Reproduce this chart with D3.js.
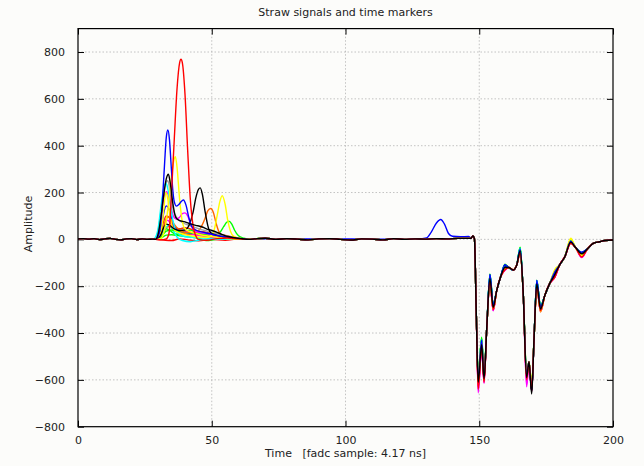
<!DOCTYPE html>
<html><head><meta charset="utf-8">
<script src="https://cdn.jsdelivr.net/npm/d3@7"></script>
<style>
html,body{margin:0;padding:0;background:#fcfcfa;}
svg{display:block;font-family:"DejaVu Sans",sans-serif;}
</style></head>
<body><svg id="chart" width="644" height="466"></svg>
<script>
// ---- data (sample index, amplitude) ----
const xTicks = [0, 50, 100, 150, 200];
const yTicks = [-800, -600, -400, -200, 0, 200, 400, 600, 800];

// shared pre-trigger baseline
const baseS = [0, 2, 4, 6, 8, 10, 12, 14, 16, 18, 20, 22, 24, 26, 28];
const baseV = [2, 3, 1, 3, -1, 2, 4, 0, -2, 2, 3, -1, 2, 0, 1];
// shared baseline between pulses and time markers
const midS = [66, 70, 74, 78, 82, 86, 90, 94, 98, 102, 106, 110, 114, 118, 122, 126, 130, 134, 138, 142, 146];
const midV = [2, 5, 0, 3, 1, -2, 2, 3, 0, -3, 2, 1, -2, 3, 0, 2, 1, 3, 2, 4, 4];
// shared time-marker response (sample positions and amplitudes)
const tailS = [147, 147.6, 148.2, 148.9, 149.6, 150.9, 151.8, 152.8, 154, 155.2, 156.5, 158, 159.6, 161, 162.7, 164, 165.3, 166.4, 167.7, 168.6, 169.6, 170.5, 171.5, 172.9, 174.5, 176.4, 178.3, 180, 182, 184.2, 186, 188.3, 190.5, 192.6, 195, 197, 200];
const tailV = [5, 15, 2, -320, -615, -444, -600, -380, -165, -288, -220, -160, -117, -120, -131, -110, -48, -220, -580, -523, -651, -420, -187, -295, -240, -187, -145, -110, -74, -10, -35, -60, -40, -17, -10, -5, -3];
// per-trace values at samples 149.6, 150.9, 151.8, 154, 155.2, 159.6, 165.3, 167.7, 169.6, 171.5, 172.9, 178.3, 184.2, 188.3
const deepIdx = [4, 5, 6, 8, 9, 12, 16, 18, 20, 22, 23, 26, 29, 31];

const redA = [[29,0],[31,-2],[33,2],[34,25],[35,210],[36,430],[37,640],[38,755],[38.5,769],[39,755],[40,620],[41,380],[42,170],[43,60],[44,15],[45,0],[48,-4],[52,3],[56,6],[60,2],[64,0]];
const redADeep = [-640, -460, -610, -180, -300, -130, -60, -600, -640, -200, -305, -160, -18, -75];
const blueA = [[29,0],[30,12],[30.6,40],[31.2,105],[31.8,210],[32.4,330],[33,435],[33.6,467],[34.2,425],[34.8,320],[35.4,215],[36,160],[36.8,142],[37.8,150],[38.6,162],[39.4,168],[40.4,145],[41.4,95],[42.5,55],[44,40],[47,30],[50,22],[54,12],[58,6],[62,2],[64,0]];
const blueADeep = [-600, -430, -590, -150, -280, -110, -42, -570, -640, -175, -290, -138, -8, -55];
const yellowA = [[29,0],[31,4],[32,25],[33,80],[34,170],[35,275],[36,345],[36.4,353],[37,310],[38,170],[39,75],[40,45],[42,32],[45,22],[50,12],[55,5],[60,0]];
const yellowADeep = [-590, -435, -575, -170, -295, -125, -55, -560, -620, -195, -310, -130, 5, -70];
const yellowB = [[29,0],[31,30],[32,120],[32.8,200],[33.6,170],[34.5,90],[36,40],[40,20],[45,10],[48,8],[50,18],[51,45],[52,100],[53,160],[53.9,186],[55,150],[56,80],[57,35],[58,15],[60,5],[63,0]];
const yellowBDeep = [-620, -445, -600, -172, -298, -128, -52, -590, -630, -192, -300, -128, 2, -66];
const blackA = [[29,0],[30,25],[31,95],[32,185],[33,258],[33.8,278],[34.5,240],[35.5,150],[36.5,95],[38,80],[40,75],[42,66],[44,60],[46,55],[48,45],[50,38],[52,30],[54,20],[56,12],[58,8],[61,3],[64,0]];
const blackADeep = [-610, -450, -595, -168, -290, -120, -50, -590, -660, -190, -298, -150, -12, -62];
const blackB = [[29,0],[31,20],[32,50],[33,65],[34,62],[36,45],[38,38],[40,40],[41.5,60],[43,115],[44,175],[45,213],[45.7,220],[46.5,192],[47.5,120],[48.5,60],[49.5,30],[51,20],[54,10],[58,3],[62,0]];
const blackBDeep = [-605, -448, -600, -165, -286, -118, -48, -585, -650, -188, -294, -146, -10, -60];
const orangeA = [[29,0],[31,20],[32,55],[33,88],[34,95],[35,80],[37,50],[40,30],[44,30],[46,52],[47.5,90],[48.5,122],[49.6,132],[50.6,115],[51.6,70],[52.6,35],[54,15],[57,5],[60,0]];
const orangeADeep = [-630, -455, -600, -175, -300, -125, -56, -600, -645, -198, -304, -155, -14, -70];
const greenA = [[29,0],[31,10],[33,35],[35,40],[37,35],[40,30],[45,25],[50,20],[53,30],[54.5,55],[55.5,72],[56.4,78],[57.5,65],[58.5,40],[60,15],[62,5],[64,0]];
const greenADeep = [-590, -425, -580, -158, -282, -112, -38, -570, -630, -180, -288, -140, -5, -58];
const cyanA = [[28,0],[29,10],[30,50],[31,140],[32,215],[32.9,240],[33.5,220],[34.5,150],[35.5,80],[36.5,40],[38,20],[40,12],[44,8],[48,4],[52,0]];
const cyanADeep = [-600, -428, -590, -155, -284, -114, -40, -580, -640, -178, -290, -142, -8, -60];
const magentaA = [[29,0],[30,20],[31,80],[32,170],[33.1,203],[34,180],[35,125],[36,92],[37,86],[38,95],[39,110],[40,113],[41,100],[42,70],[43,45],[45,30],[48,25],[52,15],[56,8],[60,5],[64,0]];
const magentaADeep = [-655, -470, -615, -185, -305, -132, -58, -630, -650, -200, -310, -162, -16, -78];
const grayA = [[29,0],[30,40],[31,120],[32,200],[33,245],[33.6,250],[34.5,200],[35.5,130],[37,92],[39,72],[42,58],[45,46],[48,36],[52,24],[56,14],[60,5],[64,0]];
const grayADeep = [-610, -446, -600, -166, -290, -120, -50, -590, -645, -190, -296, -148, -10, -62];
const blueB = [[29,0],[31,40],[32,110],[33,143],[34,130],[35,90],[36,55],[38,35],[40,30],[44,25],[48,20],[52,14],[56,6],[60,0]];
const blueBMid = [[66,2],[90,2],[110,1],[122,0],[128,2],[130.3,6],[132,30],[134,70],[135.6,85],[137,65],[138.5,25],[140,13],[143,11],[146,12]];
const blueBDeep = [-600, -432, -585, -152, -278, -108, -40, -575, -645, -176, -288, -136, -5, -58];
const redB = [[29,0],[31,30],[32,75],[33,100],[34,95],[35,70],[36,52],[38,45],[40,50],[42,45],[45,35],[48,30],[50,25],[53,20],[56,15],[60,5],[64,0]];
const redBDeep = [-625, -458, -605, -178, -302, -128, -57, -595, -650, -196, -306, -158, -15, -72];
const greenB = [[29,0],[31,10],[32,30],[33,45],[34,40],[36,25],[38,20],[40,30],[42,40],[44,30],[47,15],[50,10],[55,5],[60,0]];
const greenBDeep = [-595, -422, -585, -150, -280, -110, -36, -575, -635, -178, -286, -138, -6, -60];
const greenC = [[29,0],[31,5],[33,18],[35,20],[38,15],[42,10],[45,5],[48,-5],[52,0],[60,0]];
const greenCDeep = [-580, -418, -575, -148, -276, -106, -34, -565, -625, -174, -284, -135, -4, -56];
const redC = [[29,0],[32,-3],[35,-5],[38,2],[41,-2],[45,-6],[50,0],[55,-4],[60,2],[64,0]];
const redCDeep = [-620, -462, -600, -182, -303, -130, -60, -600, -640, -202, -308, -160, -14, -74];
const cyanB = [[29,0],[31,15],[32.5,45],[34,62],[35.5,40],[37,10],[39,-5],[42,-10],[45,-4],[50,2],[56,0]];
const cyanBDeep = [-605, -430, -590, -156, -282, -112, -38, -585, -640, -180, -289, -140, -7, -58];
const magentaB = [[29,0],[31,20],[32.5,65],[33.5,82],[34.5,70],[36,45],[38,30],[40,35],[42,25],[46,15],[50,10],[56,4],[62,0]];
const magentaBDeep = [-645, -466, -610, -183, -304, -131, -58, -620, -648, -198, -309, -160, -14, -76];
const orangeB = [[29,0],[31,15],[33,50],[34,55],[36,40],[39,25],[43,20],[48,15],[52,12],[56,8],[60,3],[64,0]];
const orangeBDeep = [-615, -452, -600, -174, -298, -126, -54, -595, -642, -194, -302, -154, -12, -70];

const series = [
  {color: "#ff0000", pulse: redC,     deep: redCDeep},
  {color: "#00ff00", pulse: greenC,   deep: greenCDeep},
  {color: "#00ff00", pulse: greenB,   deep: greenBDeep},
  {color: "#ff6600", pulse: orangeB,  deep: orangeBDeep},
  {color: "#ff00ff", pulse: magentaB, deep: magentaBDeep},
  {color: "#00ffff", pulse: cyanB,    deep: cyanBDeep},
  {color: "#ff3300", pulse: redB,     deep: redBDeep},
  {color: "#0000ff", pulse: blueB,    deep: blueBDeep, mid: blueBMid},
  {color: "#00ff00", pulse: greenA,   deep: greenADeep},
  {color: "#ff6600", pulse: orangeA,  deep: orangeADeep},
  {color: "#a0a0a0", pulse: grayA,    deep: grayADeep},
  {color: "#ff00ff", pulse: magentaA, deep: magentaADeep},
  {color: "#00ffff", pulse: cyanA,    deep: cyanADeep},
  {color: "#ffff00", pulse: yellowB,  deep: yellowBDeep},
  {color: "#000000", pulse: blackB,   deep: blackBDeep},
  {color: "#ffff00", pulse: yellowA,  deep: yellowADeep},
  {color: "#0000ff", pulse: blueA,    deep: blueADeep},
  {color: "#ff0000", pulse: redA,     deep: redADeep},
  {color: "#000000", pulse: blackA,   deep: blackADeep}
];

// ---- layout ----
const W = 644, H = 466;
const m = {left: 78, right: 31, top: 28.6, bottom: 39.3};
const svg = d3.select("#chart");
const x = d3.scaleLinear().domain([0, 200]).range([m.left, W - m.right]);
const y = d3.scaleLinear().domain([-800, 900]).range([H - m.bottom, m.top]);

svg.append("rect").attr("width", W).attr("height", H).attr("fill", "#fcfcfa");

// grid
const grid = svg.append("g").attr("stroke", "#b4b4b4").attr("stroke-width", 0.8).attr("stroke-dasharray", "1.5,2");
grid.selectAll(".gx").data(xTicks.slice(1, -1)).join("line")
  .attr("x1", d => x(d)).attr("x2", d => x(d)).attr("y1", y(-800)).attr("y2", y(900));
grid.selectAll(".gy").data(yTicks.slice(1)).join("line")
  .attr("x1", x(0)).attr("x2", x(200)).attr("y1", d => y(d)).attr("y2", d => y(d));

// axes
const axL = svg.append("g").attr("transform", `translate(${m.left},0)`)
  .call(d3.axisLeft(y).tickValues(yTicks).tickSize(-6).tickPadding(13).tickFormat(d3.format("d")));
const axR = svg.append("g").attr("transform", `translate(${W - m.right},0)`)
  .call(d3.axisRight(y).tickValues(yTicks).tickSize(-6).tickFormat(""));
const axB = svg.append("g").attr("transform", `translate(0,${H - m.bottom})`)
  .call(d3.axisBottom(x).tickValues(xTicks).tickSize(-6).tickPadding(10).tickFormat(d3.format("d")));
const axT = svg.append("g").attr("transform", `translate(0,${m.top})`)
  .call(d3.axisTop(x).tickValues(xTicks).tickSize(-6).tickFormat(""));
[axL, axR, axB, axT].forEach(a => {
  a.select(".domain").remove();
  a.selectAll("line").attr("stroke", "#000").attr("stroke-width", 1);
  a.selectAll("text").attr("font-family", "DejaVu Sans, sans-serif").attr("font-size", 11).attr("fill", "#222");
});

// traces
const line = d3.line().x(d => x(d[0])).y(d => y(d[1])).curve(d3.curveMonotoneX);
svg.append("clipPath").attr("id", "clip").append("rect")
  .attr("x", x(0)).attr("y", y(900)).attr("width", x(200) - x(0)).attr("height", y(-800) - y(900));
const traces = svg.append("g").attr("clip-path", "url(#clip)");
series.forEach(s => {
  const pts = [];
  baseS.forEach((t, i) => { if (t < s.pulse[0][0]) pts.push([t, baseV[i]]); });
  s.pulse.forEach(p => pts.push(p));
  const last = s.pulse[s.pulse.length - 1][0];
  if (s.mid) s.mid.forEach(p => { if (p[0] > last) pts.push(p); });
  else midS.forEach((t, i) => { if (t > last) pts.push([t, midV[i]]); });
  tailS.forEach((t, i) => {
    const k = deepIdx.indexOf(i);
    pts.push([t, k >= 0 ? s.deep[k] : tailV[i]]);
  });
  traces.append("path").datum(pts).attr("d", line)
    .attr("fill", "none").attr("stroke", s.color).attr("stroke-width", 1.4).attr("stroke-linejoin", "round");
});

// frame
svg.append("rect").attr("x", x(0)).attr("y", y(900)).attr("width", x(200) - x(0)).attr("height", y(-800) - y(900))
  .attr("fill", "none").attr("stroke", "#000").attr("stroke-width", 1.2);

// texts
svg.append("text").attr("x", (x(0) + x(200)) / 2).attr("y", 16).attr("text-anchor", "middle")
  .attr("font-size", 11).attr("fill", "#222").text("Straw signals and time markers");
svg.append("text").attr("x", (x(0) + x(200)) / 2).attr("y", 457).attr("text-anchor", "middle")
  .attr("font-size", 11).attr("fill", "#222").attr("xml:space", "preserve").text("Time   [fadc sample: 4.17 ns]");
svg.append("text").attr("transform", `translate(32,224) rotate(-90)`).attr("text-anchor", "middle")
  .attr("font-size", 11).attr("fill", "#222").text("Amplitude");
</script></body></html>
